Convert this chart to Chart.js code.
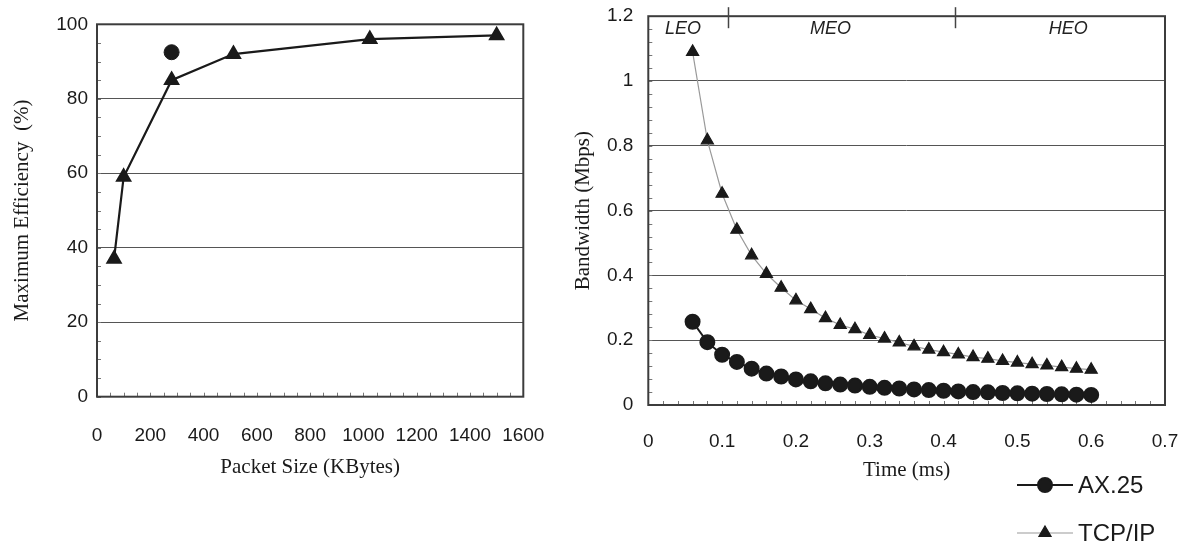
<!DOCTYPE html>
<html>
<head>
<meta charset="utf-8">
<script src="https://cdn.jsdelivr.net/npm/chart.js@4.4.1/dist/chart.umd.min.js"></script>
<style>
  html, body { margin: 0; padding: 0; background: #fff; }
  #wrap { position: relative; width: 1181px; height: 544px; overflow: hidden; }
  .panel { position: absolute; top: 0; height: 544px; }
  #left { left: 0; width: 560px; }
  #right { left: 570px; width: 611px; }
</style>
</head>
<body>
<div id="wrap">
  <div class="panel" id="left"><canvas id="effChart" width="560" height="544"></canvas></div>
  <div class="panel" id="right"><canvas id="bwChart" width="611" height="544"></canvas></div>
</div>
<script>
// left panel: efficiency vs packet size
const packetSizes = [64, 100, 280, 512, 1024, 1500];
const tcpEfficiency = [37, 59, 85, 92, 96, 97];
const axPacketSize = [280];
const axEfficiency = [92.5];
const sizeTicks = [0, 200, 400, 600, 800, 1000, 1200, 1400, 1600];
const sizeLabels = ['0', '200', '400', '600', '800', '1000', '1200', '1400', '1600'];
const effTicks = [0, 20, 40, 60, 80, 100];
const effLabels = ['0', '20', '40', '60', '80', '100'];

// right panel: bandwidth vs time
const times = [0.06, 0.08, 0.10, 0.12, 0.14, 0.16, 0.18, 0.20, 0.22, 0.24, 0.26, 0.28, 0.30, 0.32,
               0.34, 0.36, 0.38, 0.40, 0.42, 0.44, 0.46, 0.48, 0.50, 0.52, 0.54, 0.56, 0.58, 0.60];
const tcpBandwidth = [1.09, 0.817, 0.652, 0.541, 0.462, 0.405, 0.362, 0.323, 0.296, 0.268, 0.247, 0.234, 0.216, 0.205,
                      0.193, 0.181, 0.171, 0.163, 0.156, 0.148, 0.143, 0.136, 0.131, 0.126, 0.122, 0.117, 0.112, 0.109];
const axBandwidth = [0.257, 0.194, 0.155, 0.133, 0.112, 0.097, 0.088, 0.079, 0.073, 0.067, 0.063, 0.060, 0.056, 0.053,
                     0.051, 0.048, 0.046, 0.044, 0.042, 0.040, 0.039, 0.037, 0.036, 0.035, 0.034, 0.033, 0.032, 0.031];
const timeTicks = [0, 0.1, 0.2, 0.3, 0.4, 0.5, 0.6, 0.7];
const timeLabels = ['0', '0.1', '0.2', '0.3', '0.4', '0.5', '0.6', '0.7'];
const bwTicks = [0, 0.2, 0.4, 0.6, 0.8, 1, 1.2];
const bwLabels = ['0', '0.2', '0.4', '0.6', '0.8', '1', '1.2'];
const orbitNames = ['LEO', 'MEO', 'HEO'];
const orbitLabelAt = [0.047, 0.247, 0.569];
const orbitBounds = [0.108, 0.415];

const tickFont = { family: "'Liberation Sans', Arial, sans-serif", size: 19 };
const titleFont = { family: "'Liberation Serif', 'Times New Roman', serif", size: 21 };
const ink = '#1a1a1a';

const toPoints = (xs, ys) => xs.map((x, i) => ({ x: x, y: ys[i] }));
const fixedTicks = (vals) => (scale) => { scale.ticks = vals.map(v => ({ value: v })); };
// fixed axis size, and stop label overflow from pushing the plot area around
const fitX = (h) => (s) => { s.height = h; s.paddingLeft = 0; s.paddingRight = 0; };
const fitY = (w) => (s) => { s.width = w; s.paddingTop = 0; s.paddingBottom = 0; };

// plot frame + small inner tick marks
const framePlugin = {
  id: 'frame',
  beforeDatasetsDraw(chart, args, opts) {
    const { ctx, chartArea: a, scales: { x, y } } = chart;
    ctx.save();
    ctx.strokeStyle = '#777';
    ctx.lineWidth = 1;
    ctx.beginPath();
    for (let v = x.min; v <= x.max + 1e-9; v += opts.xStep) {
      const px = Math.round(x.getPixelForValue(v)) + 0.5;
      ctx.moveTo(px, a.bottom);
      ctx.lineTo(px, a.bottom - 4);
    }
    for (let v = y.min; v <= y.max + 1e-9; v += opts.yStep) {
      const py = Math.round(y.getPixelForValue(v)) + 0.5;
      ctx.moveTo(a.left, py);
      ctx.lineTo(a.left + 4, py);
    }
    ctx.stroke();
    ctx.strokeStyle = '#3c3c3c';
    ctx.lineWidth = 2;
    ctx.strokeRect(a.left, a.top, a.right - a.left, a.bottom - a.top);
    ctx.restore();
  }
};

// LEO / MEO / HEO labels with boundary marks
const orbitPlugin = {
  id: 'orbits',
  afterDatasetsDraw(chart) {
    const { ctx, chartArea: a, scales: { x, y } } = chart;
    ctx.save();
    ctx.strokeStyle = '#444';
    ctx.lineWidth = 1.5;
    orbitBounds.forEach(b => {
      const px = Math.round(x.getPixelForValue(b)) + 0.5;
      ctx.beginPath();
      ctx.moveTo(px, a.top - 9);
      ctx.lineTo(px, a.top + 12);
      ctx.stroke();
    });
    ctx.fillStyle = '#222';
    ctx.font = "italic 18px 'Liberation Sans', Arial, sans-serif";
    ctx.textAlign = 'center';
    ctx.textBaseline = 'middle';
    orbitNames.forEach((n, i) => {
      ctx.fillText(n, x.getPixelForValue(orbitLabelAt[i]), y.getPixelForValue(1.16));
    });
    ctx.restore();
  }
};

// legend drawn below the right plot
const legendPlugin = {
  id: 'sideLegend',
  afterDraw(chart) {
    const { ctx, chartArea: a } = chart;
    const rows = [
      { ds: chart.data.datasets[0], y: 485 },
      { ds: chart.data.datasets[1], y: 533 }
    ];
    ctx.save();
    rows.forEach(r => {
      const x0 = a.right - 148, x1 = a.right - 92;
      ctx.strokeStyle = r.ds.borderColor;
      ctx.lineWidth = r.ds.borderWidth;
      ctx.beginPath();
      ctx.moveTo(x0, r.y);
      ctx.lineTo(x1, r.y);
      ctx.stroke();
      ctx.fillStyle = r.ds.pointBackgroundColor;
      ctx.strokeStyle = r.ds.pointBackgroundColor;
      Chart.helpers.drawPoint(ctx, { pointStyle: r.ds.pointStyle, radius: r.ds.pointRadius, rotation: 0, borderWidth: 1 },
        (x0 + x1) / 2, r.y);
      ctx.fillStyle = ink;
      ctx.font = "24px 'Liberation Sans', Arial, sans-serif";
      ctx.textAlign = 'left';
      ctx.textBaseline = 'middle';
      ctx.fillText(r.ds.label, x1 + 5, r.y + 1);
    });
    ctx.restore();
  }
};

new Chart(document.getElementById('effChart'), {
  type: 'line',
  data: {
    datasets: [{
      label: 'TCP/IP',
      data: toPoints(packetSizes, tcpEfficiency),
      borderColor: ink,
      borderWidth: 2.2,
      pointStyle: 'triangle',
      pointRadius: 7.5,
      pointBackgroundColor: ink,
      pointBorderColor: ink,
      tension: 0
    }, {
      label: 'AX.25',
      data: toPoints(axPacketSize, axEfficiency),
      showLine: false,
      pointStyle: 'circle',
      pointRadius: 7.5,
      pointBackgroundColor: ink,
      pointBorderColor: ink
    }]
  },
  options: {
    responsive: false,
    animation: false,
    layout: { padding: { top: 24.3, right: 36.7, left: 0, bottom: 0 } },
    plugins: {
      legend: { display: false },
      tooltip: { enabled: false },
      frame: { xStep: 50, yStep: 5 }
    },
    scales: {
      x: {
        type: 'linear',
        min: 0,
        max: 1600,
        afterBuildTicks: fixedTicks(sizeTicks),
        afterFit: fitX(147.3),
        grid: { display: false },
        border: { display: false },
        ticks: { font: tickFont, color: ink, padding: 20, maxRotation: 0, callback: (v, i) => sizeLabels[i] },
        title: { display: true, text: 'Packet Size (KBytes)', font: titleFont, color: ink, padding: { top: 0, bottom: 64.4 } }
      },
      y: {
        min: 0,
        max: 100,
        afterBuildTicks: fixedTicks(effTicks),
        afterFit: fitY(97),
        grid: { color: '#555', lineWidth: 1, drawTicks: false },
        border: { display: false },
        ticks: { font: tickFont, color: ink, padding: 9, callback: (v, i) => effLabels[i] },
        title: { display: true, text: 'Maximum Efficiency  (%)', font: titleFont, color: ink, padding: { top: 9.4, bottom: 0 } }
      }
    }
  },
  plugins: [framePlugin]
});

new Chart(document.getElementById('bwChart'), {
  type: 'line',
  data: {
    datasets: [{
      label: 'AX.25',
      data: toPoints(times, axBandwidth),
      borderColor: ink,
      borderWidth: 2,
      pointStyle: 'circle',
      pointRadius: 7,
      pointBackgroundColor: ink,
      pointBorderColor: ink,
      tension: 0
    }, {
      label: 'TCP/IP',
      data: toPoints(times, tcpBandwidth),
      borderColor: '#9a9a9a',
      borderWidth: 1.2,
      pointStyle: 'triangle',
      pointRadius: 7,
      pointBackgroundColor: ink,
      pointBorderColor: ink,
      tension: 0
    }]
  },
  options: {
    responsive: false,
    animation: false,
    layout: { padding: { top: 16.2, right: 16, left: 0, bottom: 0 } },
    plugins: {
      legend: { display: false },
      tooltip: { enabled: false },
      frame: { xStep: 0.02, yStep: 0.04 }
    },
    scales: {
      x: {
        type: 'linear',
        min: 0,
        max: 0.7,
        afterBuildTicks: fixedTicks(timeTicks),
        afterFit: fitX(139),
        grid: { display: false },
        border: { display: false },
        ticks: { font: tickFont, color: ink, padding: 17, maxRotation: 0, callback: (v, i) => timeLabels[i] },
        title: { display: true, text: 'Time (ms)', font: titleFont, color: ink, padding: { top: 0, bottom: 61.4 } }
      },
      y: {
        min: 0,
        max: 1.2,
        afterBuildTicks: fixedTicks(bwTicks),
        afterFit: fitY(78.3),
        grid: { color: '#555', lineWidth: 1, drawTicks: false },
        border: { display: false },
        ticks: { font: tickFont, color: ink, padding: 15, callback: (v, i) => bwLabels[i] },
        title: { display: true, text: 'Bandwidth (Mbps)', font: titleFont, color: ink, padding: { top: 0.4, bottom: 0 } }
      }
    }
  },
  plugins: [framePlugin, orbitPlugin, legendPlugin]
});
</script>
</body>
</html>
